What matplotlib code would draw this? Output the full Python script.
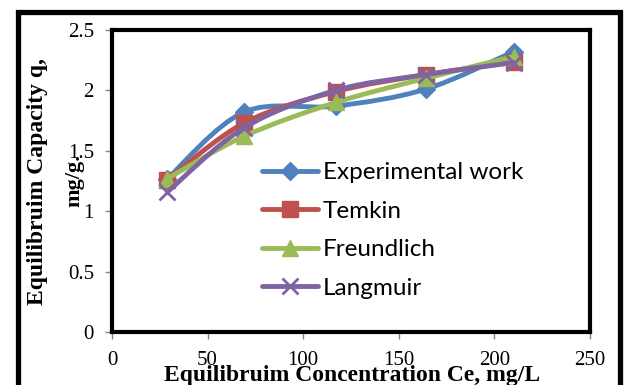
import numpy as np
import matplotlib
matplotlib.use('Agg')
import matplotlib.pyplot as plt
from matplotlib.path import Path
from matplotlib.patches import PathPatch, Rectangle
from matplotlib.lines import Line2D

# equilibrium concentration (mg/L) and capacity (mg/g) for each model
ce = [29, 69, 117, 164, 210]
q_experimental = [1.27, 1.82, 1.87, 2.01, 2.32]
q_temkin = [1.26, 1.73, 1.99, 2.13, 2.235]
q_freundlich = [1.27, 1.62, 1.90, 2.10, 2.28]
q_langmuir = [1.16, 1.69, 2.00, 2.13, 2.23]

labels = ['Experimental work', 'Temkin', 'Freundlich', 'Langmuir']
colors = ['#4F81BD', '#C0504D', '#9BBB59', '#8064A2']
markers = ['D', 's', '^', 'x']
msizes = [9.5, 12, 12, 12]


def smooth_path(xs, ys):
    # Catmull-Rom style bezier through the points (like a "smoothed line")
    pts = np.column_stack([xs, ys]).astype(float)
    padded = np.vstack([pts[0], pts, pts[-1]])
    verts = [pts[0]]
    codes = [Path.MOVETO]
    for i in range(len(pts) - 1):
        p0, p1, p2, p3 = padded[i], padded[i + 1], padded[i + 2], padded[i + 3]
        verts += [p1 + (p2 - p0) / 6.0, p2 - (p3 - p1) / 6.0, p2]
        codes += [Path.CURVE4] * 3
    return Path(verts, codes)


fig = plt.figure(figsize=(6.24, 3.85), dpi=100)
ax = fig.add_axes([112 / 624, 53 / 385, 478 / 624, 302 / 385])

all_q = [q_experimental, q_temkin, q_freundlich, q_langmuir]
handles = []
for i, q in enumerate(all_q):
    z = 3 + i
    ax.add_patch(PathPatch(smooth_path(ce, q), fill=False, edgecolor=colors[i],
                           lw=3.5, capstyle='round', joinstyle='round', zorder=z))
    mew = 2 if markers[i] == 'x' else 1
    ax.plot(ce, q, ls='none', marker=markers[i], ms=msizes[i], color=colors[i],
            mec=colors[i], mew=mew, zorder=z + 0.5)
    handles.append(Line2D([], [], color=colors[i], lw=3.5, marker=markers[i],
                          ms=msizes[i], mew=mew, solid_capstyle='round'))

ax.set_xlim(0, 250)
ax.set_ylim(0, 2.5)
ax.set_xticks([0, 50, 100, 150, 200, 250])
ax.set_yticks([0, 0.5, 1, 1.5, 2, 2.5])
ax.set_yticklabels(['0', '0.5', '1', '1.5', '2', '2.5'])

for side in ['top', 'bottom', 'left', 'right']:
    ax.spines[side].set_linewidth(3)
    ax.spines[side].set_color('black')

ax.tick_params(axis='both', direction='out', length=5, width=1, color='#868686',
               labelsize=15, labelfontfamily='Liberation Serif')
ax.tick_params(axis='x', pad=9)
ax.tick_params(axis='y', pad=8)

ax.legend(handles, labels, loc='upper left', bbox_to_anchor=(262 / 624, 1 - 162 / 385),
          bbox_transform=fig.transFigure, frameon=False, borderpad=0, borderaxespad=0,
          handlelength=2.3, handletextpad=0.2, labelspacing=0.72,
          prop={'family': 'Lato', 'size': 17.5})

# axis titles
fig.text(352 / 624, 1 - 381 / 385, 'Equilibruim Concentration Ce, mg/L',
         ha='center', va='baseline', fontsize=17, fontweight='bold',
         family='Liberation Serif')
fig.text(38 / 624, 1 - 182 / 385, 'Equilibruim Capacity q,', rotation=90,
         ha='center', va='center', fontsize=17, fontweight='bold',
         family='Liberation Serif')
fig.text(74 / 624, 1 - 181 / 385, 'mg/g.', rotation=90,
         ha='center', va='center', fontsize=16, fontweight='bold',
         family='Liberation Serif')

# outer chart frame
fig.patches.append(Rectangle((17.5 / 624, -0.05), (620 - 17.5) / 624, 1.05 - 12 / 385,
                             transform=fig.transFigure, fill=False, edgecolor='black',
                             lw=3.8, zorder=0))

fig.savefig('out.png', dpi=100)
